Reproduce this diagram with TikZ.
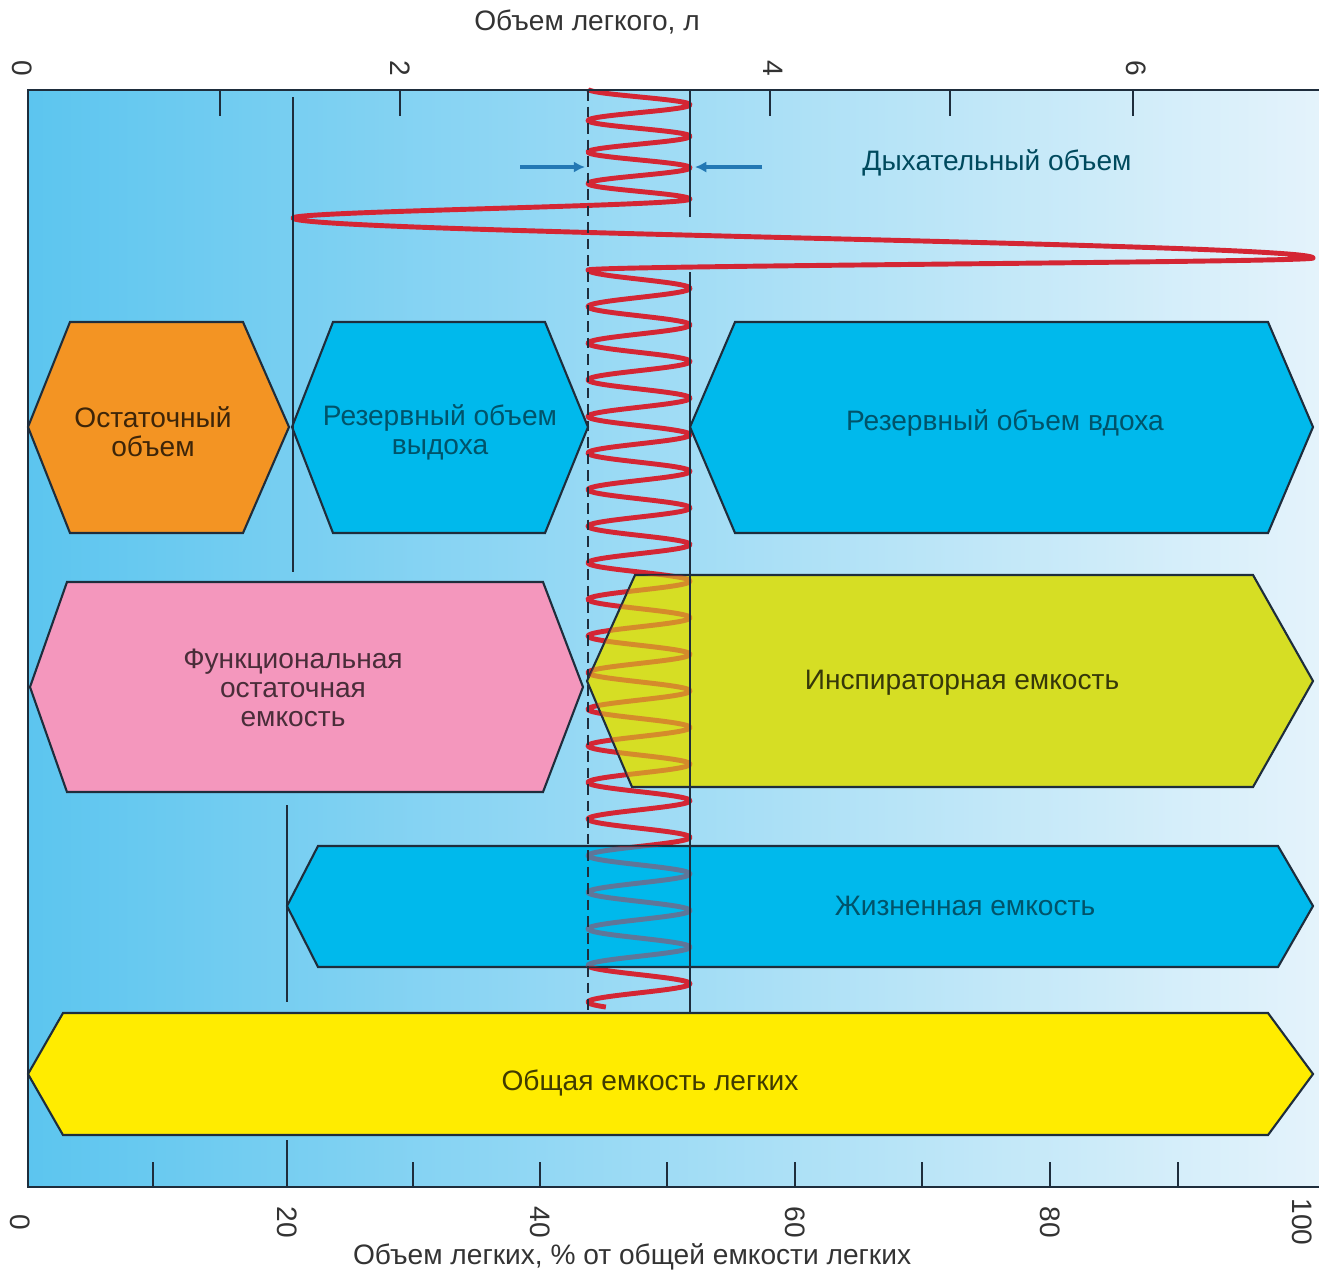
\documentclass[tikz,border=0pt]{standalone}
\usepackage{fontspec}
\setmainfont{Liberation Sans}
\usetikzlibrary{arrows.meta}
\definecolor{myorange}{RGB}{243,148,35}
\definecolor{myblue}{RGB}{0,185,236}
\definecolor{mypink}{RGB}{244,151,189}
\definecolor{mygreen}{RGB}{214,222,36}
\definecolor{myyellow}{RGB}{255,236,0}
\definecolor{myred}{RGB}{212,38,52}
\definecolor{myframe}{RGB}{30,45,60}
\definecolor{myarrow}{RGB}{35,120,180}
\definecolor{bgleft}{RGB}{92,197,239}
\definecolor{bgright}{RGB}{228,243,251}

% breathing curve and the two boxes it runs through
\newcommand{\breath}{plot[domain=0:3.5, samples=160] ({639-51*cos(360*\x)}, {89+31.5*\x})
	-- plot[domain=0:1, samples=50] ({491.5+198.5*cos(180*\x)}, {199+19*\x})
	-- plot[domain=0:1, samples=90] ({803-510*cos(180*\x)}, {218+40*\x})
	-- plot[domain=0:1, samples=70] ({950.5+362.5*cos(180*\x)}, {258+12*\x})
	-- plot[domain=0:20.15, samples=900] ({639-51*cos(360*\x)}, {270+36.6*\x})}
\newcommand{\icshape}{(587,681) -- (635,575) -- (1253,575) -- (1313,681) -- (1253,787) -- (632,787) -- cycle}
\newcommand{\vcshape}{(287,906) -- (318,846) -- (1278,846) -- (1313,906) -- (1278,967) -- (318,967) -- cycle}

\begin{document}
\begin{tikzpicture}[
		x=0.01cm, y=-0.01cm,
		box/.style={draw=myframe, line width=0.6pt, line join=miter},
		label/.style={font=\fontsize{8}{8.2}\selectfont, align=center},
		num/.style={font=\fontsize{8}{9}\selectfont, text=black!80, rotate=-90},
		title/.style={font=\fontsize{8}{9}\selectfont, text=black!80},
		wave/.style={myred, line width=1.4pt, line join=round},
		frame/.style={myframe, line width=0.8pt},
		thin/.style={myframe, line width=0.55pt},
		arrow/.style={myarrow, line width=0.9pt, -{Latex[length=3.2pt, width=3.2pt]}}
		]
		\useasboundingbox (0,0) rectangle (1319,1275);
		
		% Background
		\shade[left color=bgleft, right color=bgright] (28,90) rectangle (1319,1187);
		\draw[wave] \breath;
		
		% Boxes
		\draw[box, fill=myorange] (28,427) -- (70,322) -- (243,322) -- (289,427) -- (243,533) -- (70,533) -- cycle;
		\draw[box, fill=myblue] (292,427) -- (333,322) -- (545,322) -- (588,427) -- (545,533) -- (333,533) -- cycle;
		\draw[box, fill=myblue] (690,427) -- (735,322) -- (1268,322) -- (1313,427) -- (1268,533) -- (735,533) -- cycle;
		\draw[box, fill=mypink] (30,687) -- (67,582) -- (543,582) -- (583,687) -- (543,792) -- (67,792) -- cycle;
		\draw[box, fill=mygreen] \icshape;
		\draw[box, fill=myblue] \vcshape;
		\draw[box, fill=myyellow] (28,1074) -- (63,1013) -- (1268,1013) -- (1313,1074) -- (1268,1135) -- (63,1135) -- cycle;
		\begin{scope}
			\clip \icshape;
			\draw[wave, draw opacity=0.45] \breath;
		\end{scope}
		\begin{scope}
			\clip \vcshape;
			\draw[wave, draw opacity=0.45] \breath;
		\end{scope}
		
		% Limit lines
		\draw[thin] (293,97) -- (293,572);
		\draw[thin] (287,805) -- (287,1002);
		\draw[thin, dash pattern=on 3pt off 1.7pt] (588,90) -- (588,1010);
		\draw[thin] (690,90) -- (690,217);
		\draw[thin] (690,272) -- (690,1012);
		
		% Frame and ticks
		\draw[frame] (1319,90) -- (28,90) -- (28,1187) -- (1319,1187);
		\foreach \t in {220,400,770,950,1133}
			\draw[frame] (\t,90) -- (\t,116);
		\foreach \t in {153,413,540,667,795,922,1050,1178}
			\draw[frame] (\t,1187) -- (\t,1162);
		\draw[frame] (287,1187) -- (287,1140);
		\foreach \v/\t in {0/22,2/400,4/773,6/1136}
			\node[num] (top\v) at (\t,68) {\v};
		\foreach \v/\t in {0/20,20/287,40/540,60/795,80/1050,100/1302}
			\node[num] (bot\v) at (\t,1222) {\v};
		\node[title] (toptitle) at (587,22) {Объем легкого, л};
		\node[title] (bottitle) at (632,1257) {Объем легких, \% от общей емкости легких};
		
		% Labels
		\node[label, text=black!75!myorange] (rv) at (153,432) {Остаточный\\объем};
		\node[label, text=black!55!myblue] (erv) at (440,432) {Резервный объем\\выдоха};
		\node[label, text=black!55!myblue] (irv) at (1005,423) {Резервный объем вдоха};
		\node[label, text=black!70!mypink] (frc) at (293,688) {Функциональная\\остаточная\\емкость};
		\node[label, text=black!75!mygreen] (ic) at (962,683) {Инспираторная емкость};
		\node[label, text=black!55!myblue] (vc) at (965,906) {Жизненная емкость};
		\node[label, text=black!75!myyellow] (tlc) at (650,1083) {Общая емкость легких};
		\node[label, text=black!60!myblue] (tv) at (997,163) {Дыхательный объем};
		
		% Arrows
		\coordinate (tvla) at (520,167);
		\coordinate (tvl) at (585,167);
		\coordinate (tvra) at (762,167);
		\coordinate (tvr) at (695,167);
		\draw[arrow] (tvla) -- (tvl);
		\draw[arrow] (tvra) -- (tvr);
		
	\end{tikzpicture}
\end{document}
